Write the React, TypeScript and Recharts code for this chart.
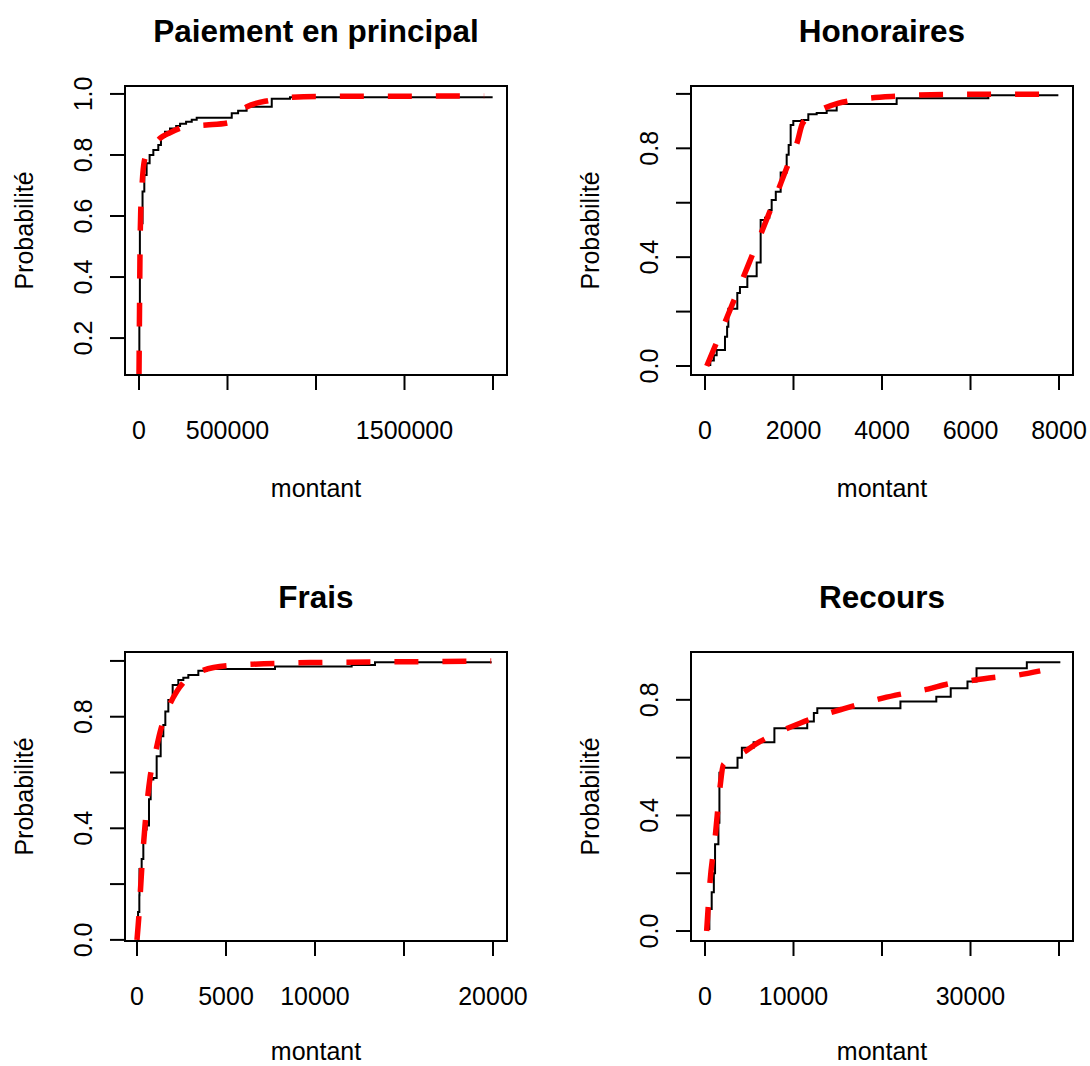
import { LineChart, Line, XAxis, YAxis } from "recharts"

// --- Paiement en principal ---
const paiementEcdfX = [0, 2000, 5000, 9600, 20000, 30000, 43000, 60000, 81000, 109000, 124000, 147000, 175000, 210000, 232000, 266000, 298000, 326000, 524000, 560000, 608000, 750000, 853000, 1998000]
const paiementEcdfY = [0.11, 0.3, 0.565, 0.576, 0.68, 0.734, 0.773, 0.8, 0.816, 0.833, 0.86, 0.876, 0.887, 0.895, 0.902, 0.909, 0.915, 0.922, 0.937, 0.945, 0.958, 0.984, 0.989, 0.989]
const paiementFitX = [0, 3000, 6000, 10000, 17000, 30000, 50000, 81000, 120000, 175000, 270000, 380000, 500000, 530000, 610000, 740000, 853000, 1000000, 1950000]
const paiementFitY = [0.08, 0.3, 0.5, 0.62, 0.7, 0.78, 0.81, 0.83, 0.855, 0.873, 0.893, 0.898, 0.905, 0.925, 0.958, 0.979, 0.989, 0.992, 0.993]
const paiementXTicks = [0, 500000, 1000000, 1500000, 2000000]
const paiementXLabels = ["0", "500000", "", "1500000", ""]
const paiementYTicks = [0.2, 0.4, 0.6, 0.8, 1.0]
const paiementYLabels = ["0.2", "0.4", "0.6", "0.8", "1.0"]

// --- Honoraires ---
const honorairesEcdfX = [40, 120, 200, 264, 452, 500, 528, 730, 790, 957, 1168, 1258, 1356, 1454, 1507, 1600, 1710, 1846, 1891, 1936, 1996, 2185, 2335, 2524, 2750, 2976, 4331, 6403, 7985]
const honorairesEcdfY = [0.004, 0.02, 0.04, 0.059, 0.108, 0.144, 0.21, 0.268, 0.29, 0.33, 0.38, 0.537, 0.545, 0.573, 0.61, 0.64, 0.711, 0.776, 0.812, 0.886, 0.9, 0.904, 0.925, 0.93, 0.939, 0.963, 0.984, 0.995, 0.995]
const honorairesFitX = [40, 500, 1000, 1544, 2000, 2080, 2200, 2400, 2600, 3000, 3400, 4400, 5500, 8000]
const honorairesFitY = [0.0, 0.18, 0.38, 0.6, 0.79, 0.82, 0.89, 0.92, 0.94, 0.965, 0.978, 0.992, 0.998, 0.999]
const honorairesXTicks = [0, 2000, 4000, 6000, 8000]
const honorairesXLabels = ["0", "2000", "4000", "6000", "8000"]
const unitYTicks = [0, 0.2, 0.4, 0.6, 0.8, 1.0]
const unitYLabels = ["0.0", "", "0.4", "", "0.8", ""]

// --- Frais ---
const fraisEcdfX = [0, 60, 131, 140, 262, 356, 543, 674, 768, 918, 1105, 1330, 1479, 1592, 1760, 2004, 2322, 2603, 2884, 3446, 3914, 7753, 12060, 13370, 19925]
const fraisEcdfY = [0.0, 0.1, 0.16, 0.254, 0.29, 0.396, 0.41, 0.504, 0.575, 0.58, 0.658, 0.73, 0.77, 0.819, 0.86, 0.914, 0.932, 0.94, 0.95, 0.965, 0.971, 0.98, 0.985, 0.995, 0.995]
const fraisFitX = [0, 100, 262, 450, 730, 1000, 1290, 1760, 2230, 2800, 3540, 5130, 9720, 15000, 19900]
const fraisFitY = [0.0, 0.08, 0.25, 0.41, 0.58, 0.66, 0.743, 0.832, 0.89, 0.935, 0.962, 0.983, 0.994, 0.997, 1.0]
const fraisXTicks = [0, 5000, 10000, 15000, 20000]
const fraisXLabels = ["0", "5000", "10000", "", "20000"]

// --- Recours ---
const recoursEcdfX = [189, 492, 757, 1000, 1136, 1515, 1629, 1894, 3674, 4167, 5492, 7841, 11553, 12300, 12689, 22083, 26136, 27765, 29659, 30682, 36364, 40152]
const recoursEcdfY = [0.007, 0.076, 0.134, 0.2, 0.3, 0.375, 0.548, 0.565, 0.6, 0.634, 0.653, 0.702, 0.725, 0.754, 0.771, 0.794, 0.811, 0.84, 0.863, 0.909, 0.93, 0.93]
const recoursFitX = [189, 568, 1136, 1705, 2083, 3977, 6250, 8144, 10795, 13068, 15530, 17614, 20076, 22348, 25189, 27462, 30114, 32576, 35417, 37879]
const recoursFitY = [0.0, 0.17, 0.32, 0.5, 0.576, 0.61, 0.656, 0.685, 0.72, 0.745, 0.768, 0.786, 0.806, 0.821, 0.837, 0.855, 0.867, 0.877, 0.886, 0.9]
const recoursXTicks = [0, 10000, 20000, 30000, 40000]
const recoursXLabels = ["0", "10000", "", "30000", ""]
const recoursYTicks = [0, 0.2, 0.4, 0.6, 0.8]
const recoursYLabels = ["0.0", "", "0.4", "", "0.8"]

const FONT = "'Liberation Sans', Arial, Helvetica, sans-serif"
const BOX = { left: 125, top: 86, width: 382, height: 289 }

const toPoints = (xs: number[], ys: number[]) => xs.map((x, i) => ({ x, y: ys[i] }))

function makeXTick(ticks: number[], labels: string[]) {
    return (props: any) => {
        const { x, y, payload } = props
        const label = labels[ticks.indexOf(payload.value)]
        if (!label) return <g />
        return (
            <text x={x} y={y + 49} textAnchor="middle" fontSize={25} fontFamily={FONT} fill="#000">
                {label}
            </text>
        )
    }
}

function makeYTick(ticks: number[], labels: string[]) {
    return (props: any) => {
        const { x, y, payload } = props
        const label = labels[ticks.indexOf(payload.value)]
        if (!label) return <g />
        const bx = x - 18
        return (
            <text x={bx} y={y} transform={`rotate(-90, ${bx}, ${y})`} textAnchor="middle" fontSize={25} fontFamily={FONT} fill="#000">
                {label}
            </text>
        )
    }
}

interface PanelProps {
    left: number
    top: number
    width: number
    height: number
    labelY: number
    title: string
    ecdf: { x: number; y: number }[]
    fit: { x: number; y: number }[]
    xDomain: [number, number]
    yDomain: [number, number]
    xTicks: number[]
    xLabels: string[]
    yTicks: number[]
    yLabels: string[]
}

function Panel({ left, top, width, height, labelY, title, ecdf, fit, xDomain, yDomain, xTicks, xLabels, yTicks, yLabels }: PanelProps) {
    const cx = BOX.left + BOX.width / 2
    const cy = BOX.top + BOX.height / 2
    return (
        <div style={{ position: "absolute", left, top, width, height }}>
            <LineChart
                width={width}
                height={height}
                margin={{ top: BOX.top, right: width - BOX.left - BOX.width, bottom: 15, left: 15 }}
            >
                <XAxis
                    dataKey="x"
                    type="number"
                    domain={xDomain}
                    ticks={xTicks}
                    interval={0}
                    allowDataOverflow
                    height={height - BOX.top - BOX.height - 15}
                    axisLine={false}
                    tickSize={15}
                    tickMargin={0}
                    tickLine={{ stroke: "#000", strokeWidth: 2 }}
                    tick={makeXTick(xTicks, xLabels)}
                />
                <YAxis
                    type="number"
                    domain={yDomain}
                    ticks={yTicks}
                    interval={0}
                    allowDataOverflow
                    width={BOX.left - 15}
                    axisLine={false}
                    tickSize={15}
                    tickMargin={0}
                    tickLine={{ stroke: "#000", strokeWidth: 2 }}
                    tick={makeYTick(yTicks, yLabels)}
                />
                <Line
                    data={ecdf}
                    dataKey="y"
                    type="stepAfter"
                    stroke="#000"
                    strokeWidth={2}
                    dot={false}
                    isAnimationActive={false}
                />
                <Line
                    data={fit}
                    dataKey="y"
                    type="monotone"
                    stroke="#ff0000"
                    strokeWidth={5.5}
                    strokeDasharray="24 24"
                    dot={false}
                    isAnimationActive={false}
                />
            </LineChart>
            <svg
                width={width}
                height={height}
                style={{ position: "absolute", left: 0, top: 0, pointerEvents: "none" }}
            >
                <rect x={BOX.left} y={BOX.top} width={BOX.width} height={BOX.height} fill="none" stroke="#000" strokeWidth={2} />
                <text x={cx} y={42} textAnchor="middle" fontSize={31.5} fontWeight="bold" fontFamily={FONT} fill="#000">
                    {title}
                </text>
                <text x={cx} y={labelY} textAnchor="middle" fontSize={25} fontFamily={FONT} fill="#000">
                    montant
                </text>
                <text x={33} y={cy} transform={`rotate(-90, 33, ${cy})`} textAnchor="middle" fontSize={25} fontFamily={FONT} fill="#000">
                    Probabilité
                </text>
            </svg>
        </div>
    )
}

export default function App() {
    return (
        <div style={{ position: "absolute", left: 0, top: 0, width: 1090, height: 1066, background: "#fff", overflow: "hidden" }}>
            <Panel
                left={0}
                top={0}
                width={566}
                height={566}
                labelY={497}
                title="Paiement en principal"
                ecdf={toPoints(paiementEcdfX, paiementEcdfY)}
                fit={toPoints(paiementFitX, paiementFitY)}
                xDomain={[-79100, 2079100]}
                yDomain={[0.079, 1.026]}
                xTicks={paiementXTicks}
                xLabels={paiementXLabels}
                yTicks={paiementYTicks}
                yLabels={paiementYLabels}
            />
            <Panel
                left={566}
                top={0}
                width={524}
                height={566}
                labelY={497}
                title="Honoraires"
                ecdf={toPoints(honorairesEcdfX, honorairesEcdfY)}
                fit={toPoints(honorairesFitX, honorairesFitY)}
                xDomain={[-316, 8316]}
                yDomain={[-0.033, 1.029]}
                xTicks={honorairesXTicks}
                xLabels={honorairesXLabels}
                yTicks={unitYTicks}
                yLabels={unitYLabels}
            />
            <Panel
                left={0}
                top={566}
                width={566}
                height={500}
                labelY={494}
                title="Frais"
                ecdf={toPoints(fraisEcdfX, fraisEcdfY)}
                fit={toPoints(fraisFitX, fraisFitY)}
                xDomain={[-674, 20787]}
                yDomain={[-0.004, 1.032]}
                xTicks={fraisXTicks}
                xLabels={fraisXLabels}
                yTicks={unitYTicks}
                yLabels={unitYLabels}
            />
            <Panel
                left={566}
                top={566}
                width={524}
                height={500}
                labelY={494}
                title="Recours"
                ecdf={toPoints(recoursEcdfX, recoursEcdfY)}
                fit={toPoints(recoursFitX, recoursFitY)}
                xDomain={[-1582, 41582]}
                yDomain={[-0.0345, 0.9655]}
                xTicks={recoursXTicks}
                xLabels={recoursXLabels}
                yTicks={recoursYTicks}
                yLabels={recoursYLabels}
            />
        </div>
    )
}
